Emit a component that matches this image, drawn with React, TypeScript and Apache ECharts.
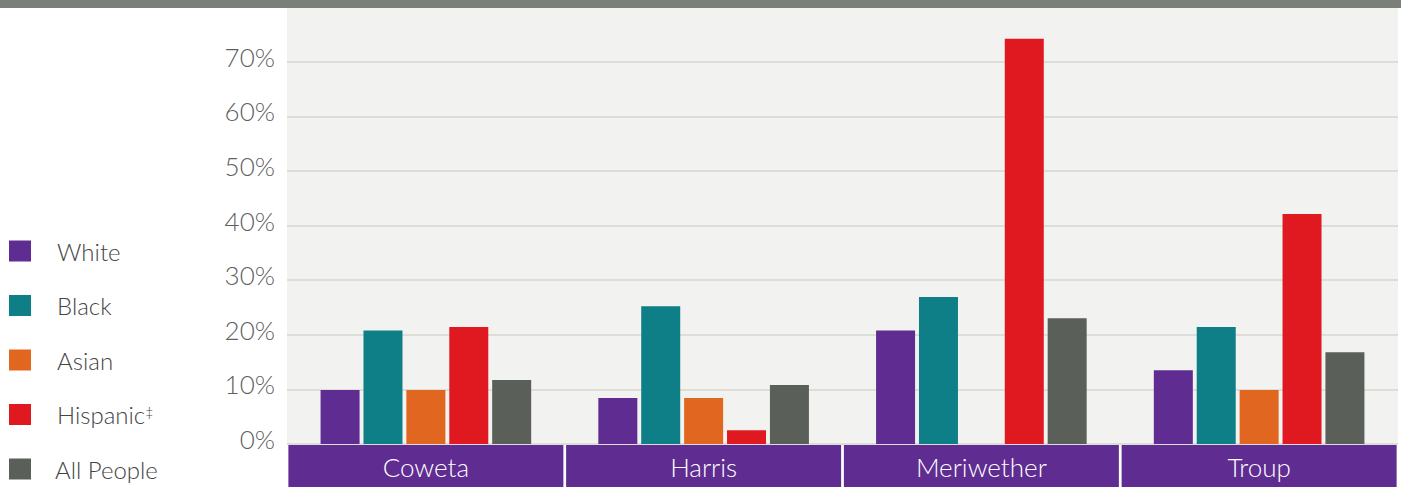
import React, { useEffect, useRef } from "react";
import * as echarts from "echarts";

const categories = ["Coweta", "Harris", "Meriwether", "Troup"];
const seriesNames = ["White", "Black", "Asian", "Hispanic", "All People"];
const white = [9.9, 8.4, 20.8, 13.5];
const black = [20.8, 25.2, 26.9, 21.4];
const asian = [9.9, 8.4, null, 9.9];
const hispanic = [21.4, 2.5, 74.2, 42.1];
const allPeople = [11.7, 10.8, 23.0, 16.8];
const seriesValues = [white, black, asian, hispanic, allPeople];
const colors = ["#5f2c91", "#0e7f87", "#e1661f", "#e01921", "#5b5f59"];
const yTicks = [0, 10, 20, 30, 40, 50, 60, 70];

export default function App() {
  const ref = useRef<HTMLDivElement>(null);
  useEffect(() => {
    document.body.style.margin = "0";
    const chart = echarts.init(ref.current!, null, { renderer: "svg" });
    chart.setOption({
      animation: false,
      color: colors,
      textStyle: { fontFamily: "Lato" },
      graphic: [
        {
          type: "rect",
          left: 0,
          top: 0,
          shape: { width: 1401, height: 8 },
          style: { fill: "#7b7f79" },
          z: 100,
        },
      ],
      legend: seriesNames.map((name, i) => ({
        orient: "vertical",
        left: 9,
        top: 239 + i * 54.5,
        padding: 0,
        itemWidth: 22,
        itemHeight: 21,
        icon: "rect",
        data: [name],
        formatter: (n: string) =>
          n === "Hispanic" ? "{a|Hispanic}{b|‡}" : "{a|" + n + "}",
        textStyle: {
          padding: [0, 0, 0, i === 4 ? 19 : 21],
          rich: {
            a: { fontSize: 24, fontWeight: 300, color: "#444444", fontFamily: "Lato", lineHeight: 21 },
            b: { fontSize: 14, fontWeight: 300, color: "#444444", fontFamily: "Lato", verticalAlign: "top", lineHeight: 21, padding: [0, 0, 10, 0] },
          },
        },
      })),
      grid: {
        left: 287,
        right: 3,
        top: 7,
        bottom: 43,
        show: true,
        backgroundColor: "#f2f2f0",
        borderWidth: 0,
        containLabel: false,
      },
      xAxis: {
        type: "category",
        data: categories,
        axisLine: { show: false },
        axisTick: { show: false },
        axisLabel: {
          interval: 0,
          margin: 1,
          color: "#ffffff",
          fontSize: 26,
          fontWeight: 300,
          fontFamily: "Lato",
          backgroundColor: "#5f2c91",
          width: 275,
          height: 42,
          lineHeight: 44,
          align: "center",
          verticalAlign: "top",
        },
      },
      yAxis: {
        type: "value",
        min: 0,
        max: 80,
        interval: 10,
        axisLine: { show: false },
        axisTick: { show: false },
        splitLine: { lineStyle: { color: "#deded9", width: 2 } },
        axisLabel: {
          margin: 12,
          color: "#5f5f5f",
          fontSize: 26,
          fontWeight: 300,
          fontFamily: "Lato",
          verticalAlign: "bottom",
          lineHeight: 10,
          formatter: (v: number) => (yTicks.includes(v) ? v + "%" : ""),
        },
      },
      series: seriesNames.map((name, i) => ({
        name,
        type: "bar",
        data: seriesValues[i],
        barWidth: 39,
        barGap: "10%",
        itemStyle: { color: colors[i] },
      })),
    });
    return () => chart.dispose();
  }, []);
  return (
    <div
      ref={ref}
      style={{ position: "absolute", left: 0, top: 0, width: 1401, height: 487, background: "#ffffff" }}
    />
  );
}
